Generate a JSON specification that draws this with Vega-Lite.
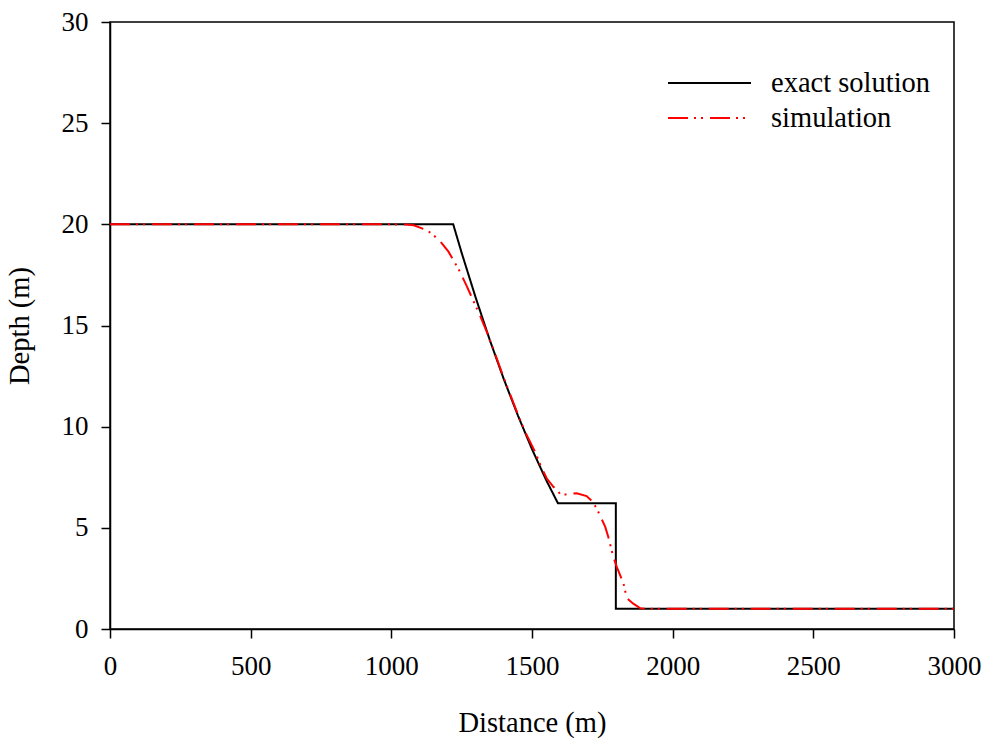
{
  "$schema": "https://vega.github.io/schema/vega-lite/v6.json",
  "autosize": {"type": "none"},
  "padding": {"left": 110, "top": 22, "right": 35, "bottom": 113},
  "width": 844,
  "height": 607,
  "background": "white",
  "config": {
    "font": "Liberation Serif",
    "view": {"stroke": "black", "strokeWidth": 1.5},
    "axis": {
      "grid": false,
      "domainColor": "black",
      "domainWidth": 1.5,
      "tickColor": "black",
      "tickWidth": 1.5,
      "tickSize": 9,
      "labelFont": "Liberation Serif",
      "labelFontSize": 27,
      "labelColor": "black",
      "titleFont": "Liberation Serif",
      "titleFontSize": 28.5,
      "titleFontWeight": "normal",
      "titleColor": "black"
    },
    "legend": {
      "labelFont": "Liberation Serif",
      "labelFontSize": 28.5,
      "labelColor": "black"
    }
  },
  "data": {
    "values": [
      {"series": "exact solution", "i": 0, "x": 0, "h": 20},
      {"series": "exact solution", "i": 1, "x": 1220, "h": 20},
      {"series": "exact solution", "i": 2, "x": 1250, "h": 18.59},
      {"series": "exact solution", "i": 3, "x": 1300, "h": 16.37},
      {"series": "exact solution", "i": 4, "x": 1350, "h": 14.28},
      {"series": "exact solution", "i": 5, "x": 1400, "h": 12.34},
      {"series": "exact solution", "i": 6, "x": 1450, "h": 10.55},
      {"series": "exact solution", "i": 7, "x": 1500, "h": 8.89},
      {"series": "exact solution", "i": 8, "x": 1550, "h": 7.37},
      {"series": "exact solution", "i": 9, "x": 1592, "h": 6.22},
      {"series": "exact solution", "i": 10, "x": 1798, "h": 6.22},
      {"series": "exact solution", "i": 11, "x": 1798, "h": 1.0},
      {"series": "exact solution", "i": 12, "x": 3000, "h": 1.0},
      {"series": "simulation", "i": 0, "x": 0, "h": 20},
      {"series": "simulation", "i": 1, "x": 1000, "h": 20},
      {"series": "simulation", "i": 2, "x": 1050, "h": 19.99},
      {"series": "simulation", "i": 3, "x": 1080, "h": 19.95},
      {"series": "simulation", "i": 4, "x": 1102, "h": 19.84},
      {"series": "simulation", "i": 5, "x": 1131, "h": 19.67},
      {"series": "simulation", "i": 6, "x": 1155, "h": 19.4},
      {"series": "simulation", "i": 7, "x": 1179, "h": 19.07},
      {"series": "simulation", "i": 8, "x": 1203, "h": 18.65},
      {"series": "simulation", "i": 9, "x": 1226, "h": 18.1},
      {"series": "simulation", "i": 10, "x": 1244, "h": 17.65},
      {"series": "simulation", "i": 11, "x": 1268, "h": 16.95},
      {"series": "simulation", "i": 12, "x": 1297, "h": 16.05},
      {"series": "simulation", "i": 13, "x": 1315, "h": 15.5},
      {"series": "simulation", "i": 14, "x": 1339, "h": 14.7},
      {"series": "simulation", "i": 15, "x": 1362, "h": 13.85},
      {"series": "simulation", "i": 16, "x": 1400, "h": 12.4},
      {"series": "simulation", "i": 17, "x": 1450, "h": 10.6},
      {"series": "simulation", "i": 18, "x": 1475, "h": 9.75},
      {"series": "simulation", "i": 19, "x": 1511, "h": 8.76},
      {"series": "simulation", "i": 20, "x": 1530, "h": 8.1},
      {"series": "simulation", "i": 21, "x": 1552, "h": 7.45},
      {"series": "simulation", "i": 22, "x": 1576, "h": 7.03},
      {"series": "simulation", "i": 23, "x": 1594, "h": 6.79},
      {"series": "simulation", "i": 24, "x": 1600, "h": 6.66},
      {"series": "simulation", "i": 25, "x": 1620, "h": 6.65},
      {"series": "simulation", "i": 26, "x": 1659, "h": 6.71},
      {"series": "simulation", "i": 27, "x": 1694, "h": 6.57},
      {"series": "simulation", "i": 28, "x": 1712, "h": 6.34},
      {"series": "simulation", "i": 29, "x": 1730, "h": 5.96},
      {"series": "simulation", "i": 30, "x": 1760, "h": 5.06},
      {"series": "simulation", "i": 31, "x": 1771, "h": 4.56},
      {"series": "simulation", "i": 32, "x": 1789, "h": 3.57},
      {"series": "simulation", "i": 33, "x": 1801, "h": 3.08},
      {"series": "simulation", "i": 34, "x": 1815, "h": 2.6},
      {"series": "simulation", "i": 35, "x": 1825, "h": 2.26},
      {"series": "simulation", "i": 36, "x": 1837, "h": 1.52},
      {"series": "simulation", "i": 37, "x": 1860, "h": 1.25},
      {"series": "simulation", "i": 38, "x": 1884, "h": 1.03},
      {"series": "simulation", "i": 39, "x": 1900, "h": 1.0},
      {"series": "simulation", "i": 40, "x": 3000, "h": 1.0}
    ]
  },
  "mark": {"type": "line", "strokeWidth": 2, "clip": true},
  "encoding": {
    "x": {
      "field": "x", "type": "quantitative",
      "scale": {"domain": [0, 3000], "nice": false, "zero": false},
      "axis": {"values": [0, 500, 1000, 1500, 2000, 2500, 3000], "format": "d", "title": "Distance (m)", "labelPadding": 15, "titlePadding": 29, "labelFlush": false}
    },
    "y": {
      "field": "h", "type": "quantitative",
      "scale": {"domain": [0, 30], "nice": false},
      "axis": {"values": [0, 5, 10, 15, 20, 25, 30], "format": "d", "title": "Depth (m)", "labelPadding": 13, "titlePadding": 27, "labelFlush": false}
    },
    "color": {
      "field": "series", "type": "nominal",
      "scale": {"domain": ["exact solution", "simulation"], "range": ["black", "red"]},
      "legend": {
        "title": null,
        "orient": "none",
        "legendX": 557,
        "legendY": 48,
        "symbolType": "stroke",
        "symbolSize": 6889,
        "symbolStrokeWidth": 2,
        "labelOffset": 19,
        "clipHeight": 26,
        "rowPadding": 6
      }
    },
    "strokeDash": {
      "field": "series", "type": "nominal",
      "scale": {"domain": ["exact solution", "simulation"], "range": [[1, 0], [20, 6, 2, 5, 2, 7]]},
      "legend": null
    },
    "order": {"field": "i", "type": "quantitative"}
  }
}
